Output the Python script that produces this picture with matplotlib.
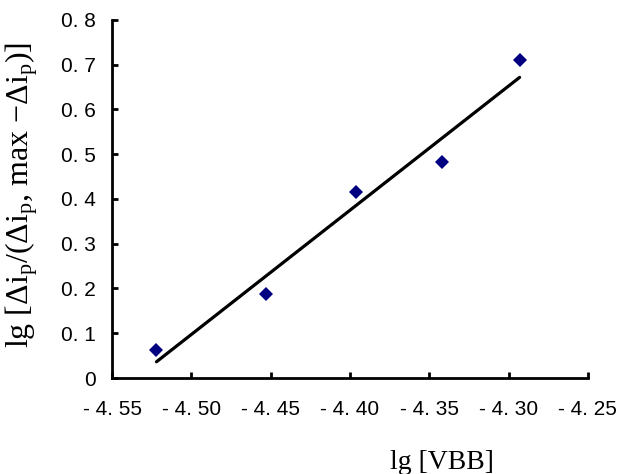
import numpy as np
import matplotlib
matplotlib.use('Agg')
import matplotlib.pyplot as plt
from matplotlib.ticker import FuncFormatter

# Plot settings
plt.rcParams['font.family'] = ['Liberation Sans', 'DejaVu Sans']
plt.rcParams['mathtext.fontset'] = 'custom'
plt.rcParams['mathtext.rm'] = 'Liberation Serif'
plt.rcParams['mathtext.it'] = 'Liberation Serif:italic'

# Data
lg_vbb = [-4.522, -4.453, -4.396, -4.342, -4.293]
lg_ratio = [0.063, 0.187, 0.415, 0.482, 0.710]
x_ticks = [-4.55, -4.50, -4.45, -4.40, -4.35, -4.30, -4.25]
y_ticks = [0, 0.1, 0.2, 0.3, 0.4, 0.5, 0.6, 0.7, 0.8]

# Linear fit through the points
slope, icept = np.polyfit(lg_vbb, lg_ratio, 1)
fit_x = np.array([min(lg_vbb), max(lg_vbb)])
fit_y = slope * fit_x + icept

fig = plt.figure(figsize=(6.26, 4.74), dpi=100)
ax = fig.add_axes([0.179, 0.2025, 0.760, 0.7555])

ax.plot(fit_x, fit_y, color='black', linewidth=2.3, solid_capstyle='round', zorder=2)
ax.plot(lg_vbb, lg_ratio, linestyle='none', marker='D', markersize=7,
        color='#000080', markeredgewidth=0, zorder=3)

ax.set_xlim(-4.55, -4.25)
ax.set_ylim(0, 0.8)
ax.set_xticks(x_ticks)
ax.set_yticks(y_ticks)

def fmt_x(v, pos):
    s = '%.2f' % abs(v)
    a, b = s.split('.')
    return '- %s. %s' % (a, b)

def fmt_y(v, pos):
    if abs(v) < 1e-9:
        return '0'
    s = '%.1f' % v
    a, b = s.split('.')
    return '%s. %s' % (a, b)

ax.xaxis.set_major_formatter(FuncFormatter(fmt_x))
ax.yaxis.set_major_formatter(FuncFormatter(fmt_y))

for side in ['top', 'right']:
    ax.spines[side].set_visible(False)
for side in ['left', 'bottom']:
    ax.spines[side].set_linewidth(2.0)

ax.tick_params(direction='in', length=4, width=2, labelsize=15)
ax.tick_params(axis='x', pad=16)
ax.tick_params(axis='y', pad=12)

ax.set_xlabel('lg [VBB]', fontfamily='Liberation Serif', fontsize=20)
ax.xaxis.set_label_coords(0.693, -0.235)
ax.xaxis.label.set_va('center')

ax.set_ylabel(r'lg [Δ$\mathrm{i}_\mathrm{p}$/(Δ$\mathrm{i}_\mathrm{p}$, max −Δ$\mathrm{i}_\mathrm{p}$)]',
              fontfamily='Liberation Serif', fontsize=23)
ax.yaxis.set_label_coords(-0.19, 0.51)
ax.yaxis.label.set_va('center')

fig.savefig('out.png', dpi=100)
